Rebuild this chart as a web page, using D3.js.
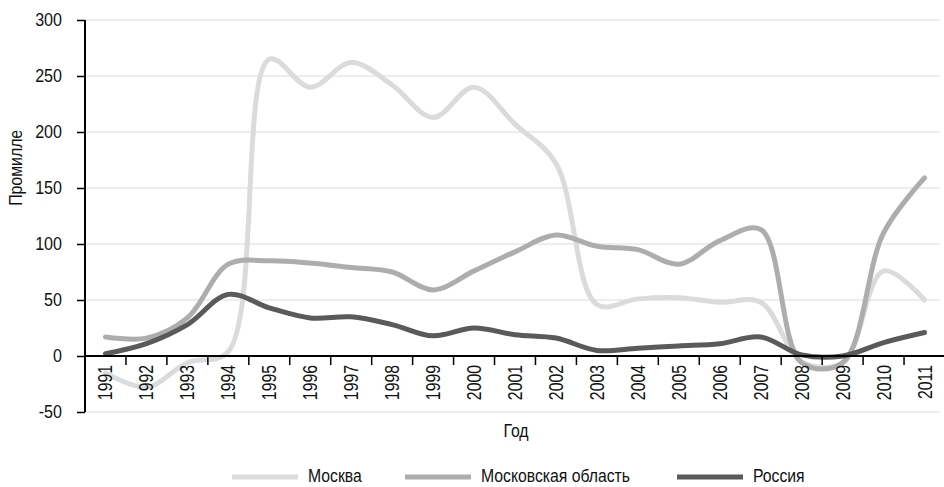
<!DOCTYPE html>
<html>
<head>
<meta charset="utf-8">
<script src="https://cdn.jsdelivr.net/npm/d3@7"></script>
<style>
  body { margin: 0; background: #fff; }
  text { font-family: "Liberation Sans", Arial, sans-serif; fill: #111; }
</style>
</head>
<body>
<div id="chart"></div>
<script>
var svgWidth = 944;
var svgHeight = 487;

var margin = {
  top: 20,
  right: 0,
  bottom: 75,
  left: 85
};

// data
var years = ["1991", "1992", "1993", "1994", "1995", "1996", "1997", "1998", "1999", "2000",
  "2001", "2002", "2003", "2004", "2005", "2006", "2007", "2008", "2009", "2010", "2011"];
var moscow = [-15, -28, -6, 4, 265, 240, 262, 242, 213, 240, 207, 172, 46, 51, 52, 48, 48, -5, -6, 76, 50];
var moscowOblast = [17, 16, 34, 82, 85, 83, 79, 75, 59, 76, 93, 108, 98, 95, 82, 103, 113, -6, -6, 110, 159];
var russia = [2, 11, 28, 55, 43, 34, 35, 28, 18, 25, 19, 16, 5, 7, 9, 11, 17, 1, 0, 12, 21];
var yTicks = [-50, 0, 50, 100, 150, 200, 250, 300];

var seriesNames = ["Москва", "Московская область", "Россия"];
var seriesData = [moscow, moscowOblast, russia];
var seriesColors = ["#dadbdc", "#adadad", "#5a5a5a"];

var width = 860;
var height = 392;

// squeeze text horizontally, the original uses a condensed face
function condense(selection, k) {
  selection.each(function() {
    var len = this.getComputedTextLength();
    d3.select(this)
      .attr("textLength", len * k)
      .attr("lengthAdjust", "spacingAndGlyphs");
  });
}

var svg = d3.select("#chart")
  .append("svg")
  .attr("width", svgWidth)
  .attr("height", svgHeight);

var chartGroup = svg.append("g")
  .attr("transform", `translate(${margin.left}, ${margin.top})`);

var xScale = d3.scaleBand()
  .domain(years)
  .range([0, width]);

var yScale = d3.scaleLinear()
  .domain([-50, 300])
  .range([height, 0]);

// grid lines
chartGroup.selectAll(".grid")
  .data(yTicks)
  .enter()
  .append("line")
  .attr("x1", 0)
  .attr("x2", 855)
  .attr("y1", d => yScale(d))
  .attr("y2", d => yScale(d))
  .attr("stroke", "#dcdcdc")
  .attr("stroke-width", 1.2);

// lines
var line = d3.line()
  .x((d, i) => xScale(years[i]) + xScale.bandwidth() / 2)
  .y(d => yScale(d))
  .curve(d3.curveCatmullRom);

chartGroup.selectAll(".series")
  .data(seriesData)
  .enter()
  .append("path")
  .attr("d", d => line(d))
  .attr("fill", "none")
  .attr("stroke", (d, i) => seriesColors[i])
  .attr("stroke-width", 5)
  .attr("stroke-linecap", "round");

// y axis
var leftAxis = d3.axisLeft(yScale)
  .tickValues(yTicks)
  .tickFormat(d => String(d))
  .tickSize(8)
  .tickPadding(15);

var yAxis = chartGroup.append("g")
  .call(leftAxis);
yAxis.select(".domain").attr("stroke-width", 2).attr("d", `M0,${height}V0`);
yAxis.selectAll(".tick line").attr("stroke-width", 1.5);
yAxis.selectAll("text")
  .attr("font-family", null)
  .style("font-size", "18.5px")
  .call(condense, 0.87);

// x axis at zero
var xAxis = chartGroup.append("g")
  .attr("transform", `translate(0, ${yScale(0)})`);

xAxis.append("line")
  .attr("x1", 0)
  .attr("x2", width)
  .attr("stroke", "#000")
  .attr("stroke-width", 2);

xAxis.selectAll(".xtick")
  .data(years.slice(1))
  .enter()
  .append("line")
  .attr("x1", d => xScale(d))
  .attr("x2", d => xScale(d))
  .attr("y1", 0)
  .attr("y2", 9)
  .attr("stroke", "#000")
  .attr("stroke-width", 1.5);

xAxis.selectAll(".xlabel")
  .data(years)
  .enter()
  .append("text")
  .attr("transform", d => `translate(${xScale(d) + xScale.bandwidth() / 2 + 7}, 9) rotate(-90)`)
  .attr("text-anchor", "end")
  .style("font-size", "20px")
  .text(d => d)
  .call(condense, 0.79);

// axis titles
chartGroup.append("text")
  .attr("transform", `translate(-63, ${yScale(168)}) rotate(-90)`)
  .attr("text-anchor", "middle")
  .style("font-size", "18px")
  .text("Промилле")
  .call(condense, 0.88);

chartGroup.append("text")
  .attr("x", 431)
  .attr("y", 417)
  .attr("text-anchor", "middle")
  .style("font-size", "18px")
  .text("Год")
  .call(condense, 0.88);

// legend
var legendX = [232, 405, 677];
var legend = svg.selectAll(".legend")
  .data(seriesNames)
  .enter()
  .append("g")
  .attr("transform", (d, i) => `translate(${legendX[i]}, 477)`);

legend.append("line")
  .attr("x1", 0)
  .attr("x2", 66)
  .attr("stroke", (d, i) => seriesColors[i])
  .attr("stroke-width", 5);

legend.append("text")
  .attr("x", 76)
  .attr("y", 5)
  .style("font-size", "17.5px")
  .text(d => d)
  .call(condense, 0.9);
</script>
</body>
</html>
